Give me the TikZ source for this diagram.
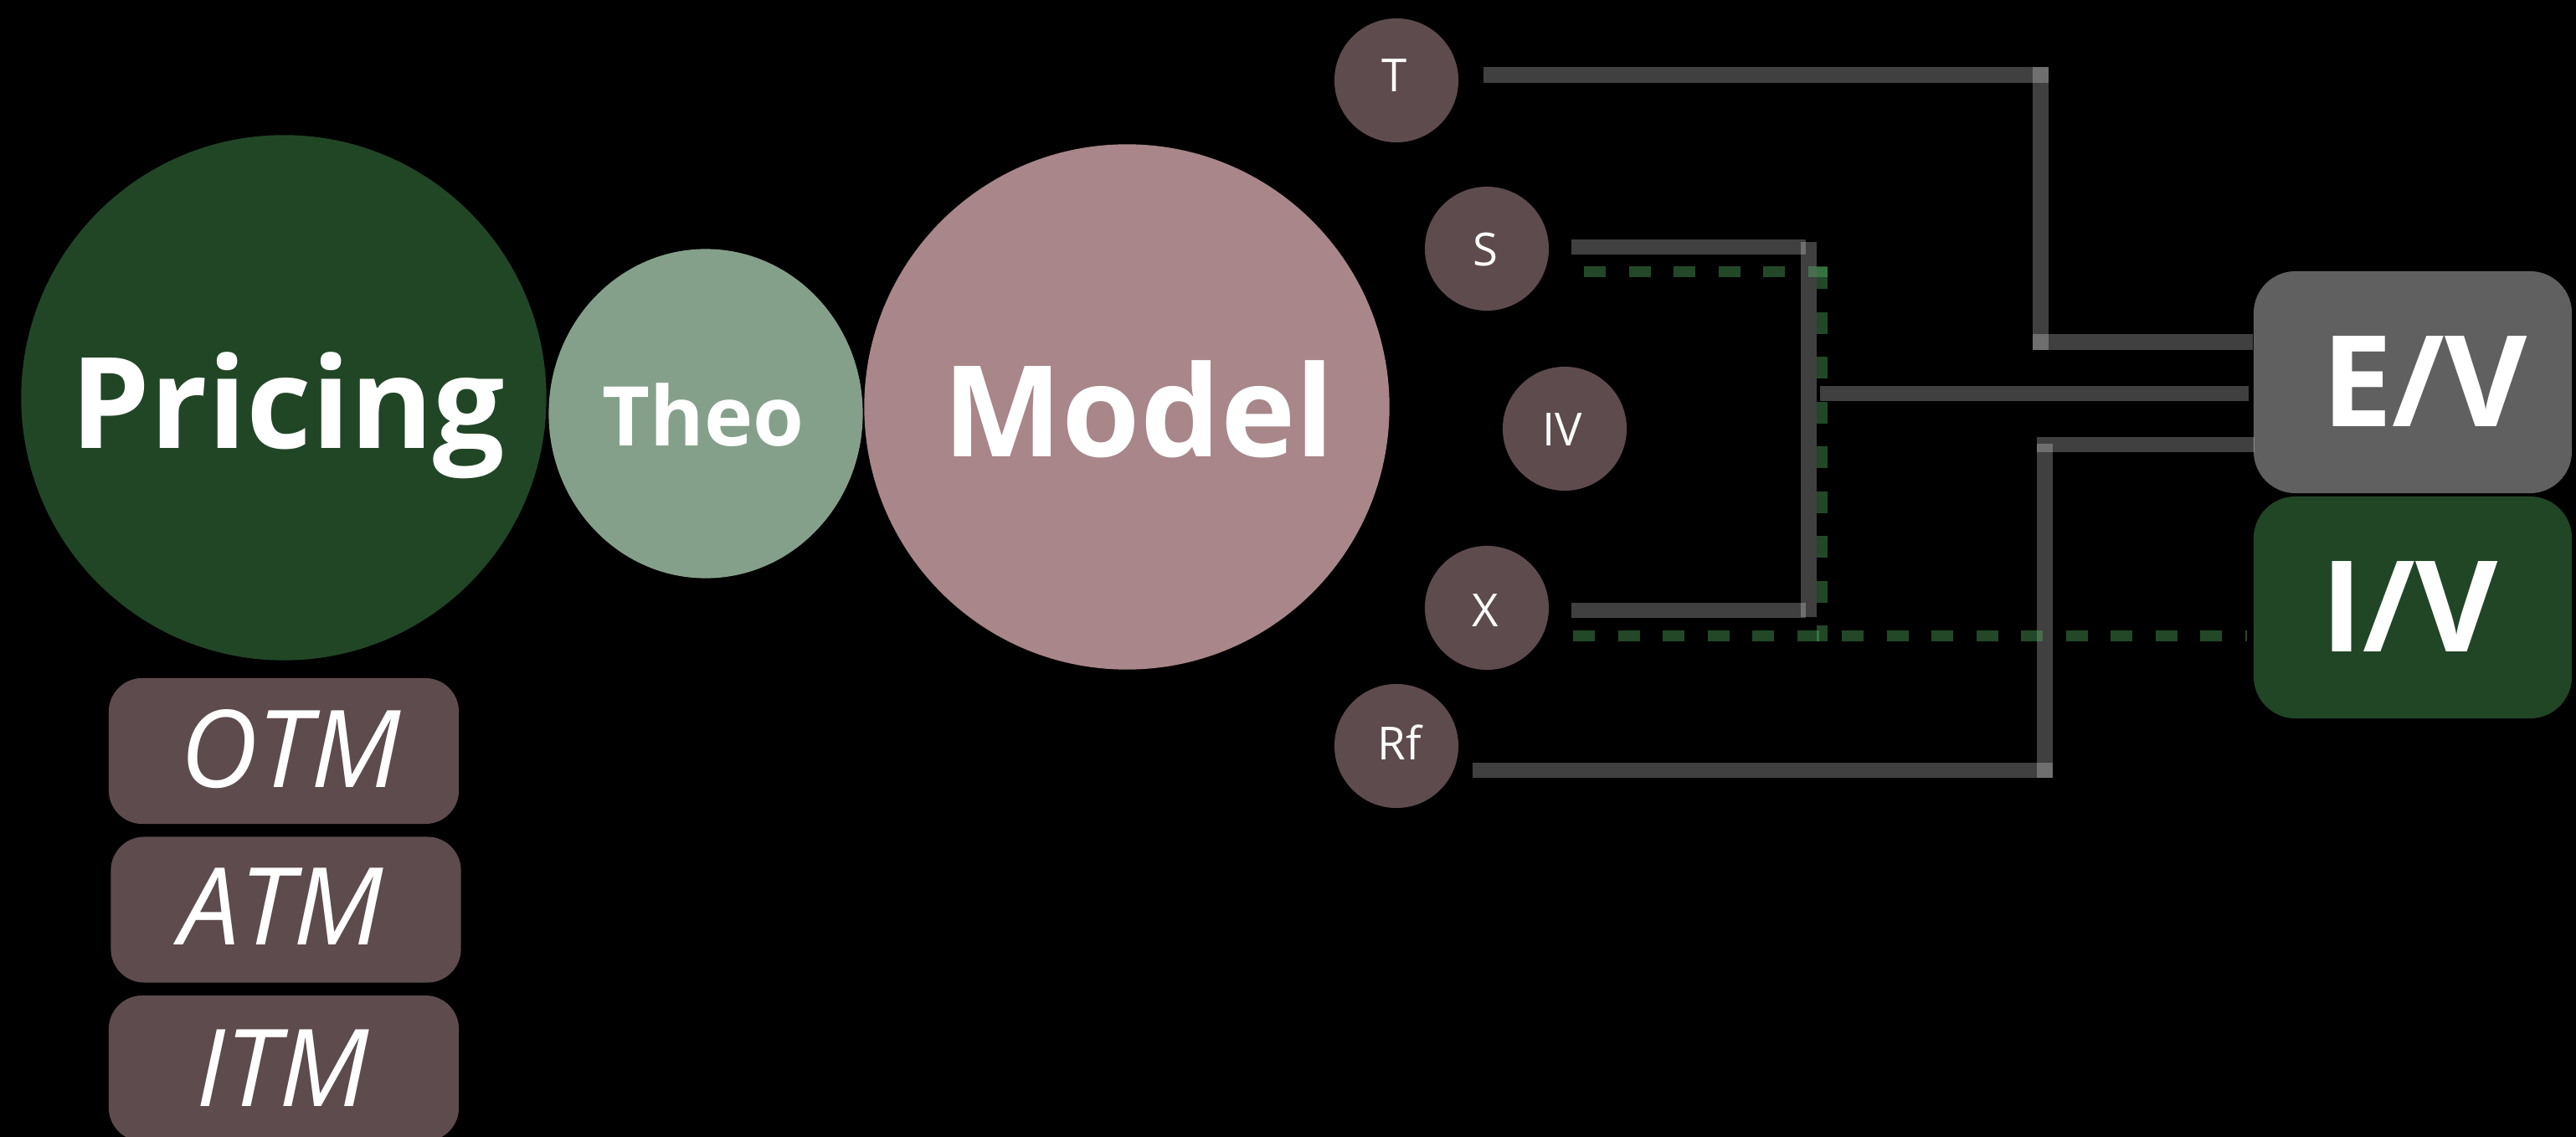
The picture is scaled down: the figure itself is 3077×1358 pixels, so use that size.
\documentclass[tikz,border=0pt]{standalone}
\usepackage{fontspec}
\setmainfont{Open Sans}
\usetikzlibrary{shapes.geometric,calc}

\definecolor{pricinggreen}{RGB}{33,70,38}
\definecolor{theogreen}{RGB}{133,160,138}
\definecolor{modelrose}{RGB}{168,134,137}
\definecolor{inputmauve}{RGB}{94,75,78}
\definecolor{evgray}{RGB}{96,96,96}
\definecolor{dashgreen}{RGB}{85,180,100}

\tikzset{
  disc/.style={circle,inner sep=0pt,draw=none},
  bigdisc/.style={disc,minimum size=6.27cm},
  inputdisc/.style={disc,fill=inputmauve,minimum size=1.48cm},
  moneybox/.style={rectangle,rounded corners=0.4cm,fill=inputmauve,inner sep=0pt,
    minimum width=4.18cm,minimum height=1.74cm},
  valuebox/.style={rectangle,rounded corners=0.5cm,inner sep=0pt,
    minimum width=3.8cm,minimum height=2.65cm},
  lbl/.style={inner sep=0pt,text=white,anchor=base},
  headline/.style={lbl,font=\fontsize{43}{50}\selectfont\bfseries},
  inputlbl/.style={lbl,font=\fontsize{15.5}{18}\selectfont},
  moneylbl/.style={lbl,font=\fontsize{36.5}{42}\selectfont\itshape},
  wire/.style={line width=0.185cm,draw=white,draw opacity=0.25,line cap=butt},
  ivwire/.style={line width=0.13cm,draw=dashgreen,draw opacity=0.4,line cap=butt,
    dash pattern=on 0.26cm off 0.275cm}
}

\begin{document}
\begin{tikzpicture}[x=0.01cm,y=-0.01cm]
  % canvas
  \fill[black] (0,0) rectangle (3077,1358);
  \useasboundingbox (0,0) rectangle (3077,1358);

  % main bubbles
  \node[bigdisc,fill=pricinggreen] (pricing) at (339,475) {};
  \node[disc,ellipse,fill=theogreen,minimum width=3.75cm,minimum height=3.93cm] (theo) at (843,494) {};
  \node[bigdisc,fill=modelrose] (model) at (1346,486) {};
  \node[headline] (pricingtxt) at (344,536) {Pricing};
  \node[lbl,font=\fontsize{28}{32}\selectfont\bfseries] (theotxt) at (840,533) {Theo};
  \node[headline] (modeltxt) at (1360,546) {Model};

  % moneyness boxes
  \node[moneybox] (otm) at (339,897) {};
  \node[moneybox] (atm) at (341.5,1086.5) {};
  \node[moneybox] (itm) at (339,1276) {};
  \node[moneylbl] (otmtxt) at (347,940) {OTM};
  \node[moneylbl] (atmtxt) at (336,1128) {ATM};
  \node[moneylbl] (itmtxt) at (338,1321) {ITM};

  % model inputs
  \node[inputdisc] (T) at (1668,96) {};
  \node[inputdisc] (S) at (1776,297) {};
  \node[inputdisc] (IV) at (1869,512) {};
  \node[inputdisc] (X) at (1776,726) {};
  \node[inputdisc] (Rf) at (1668,891) {};
  \node[inputlbl] (Ttxt) at (1666,110) {T};
  \node[inputlbl] (Stxt) at (1774,318) {S};
  \node[inputlbl] (IVtxt) at (1866,533) {IV};
  \node[inputlbl] (Xtxt) at (1774,749) {X};
  \node[inputlbl] (Rftxt) at (1672,907) {Rf};

  % value boxes
  \node[valuebox,fill=evgray] (EV) at (2882,456.5) {};
  \node[valuebox,fill=pricinggreen] (IVbox) at (2882,725.5) {};
  \node[headline] (EVtxt) at (2896,510) {E/V};
  \node[headline] (IVboxtxt) at (2878,779) {I/V};

  % bend points of the wiring
  \coordinate (tcorner) at (2447,89.5);
  \coordinate (ttop) at (2437.5,80);
  \coordinate (tbot) at (2437.5,418);
  \coordinate (tjoin) at (2428,408.5);
  \coordinate (sx) at (2157,295);
  \coordinate (sxtop) at (2160.5,289);
  \coordinate (sxbot) at (2160.5,737);
  \coordinate (xx) at (2157,729);
  \coordinate (mid) at (2174,470);
  \coordinate (rcorner) at (2452,920);
  \coordinate (rtop) at (2442.5,530);
  \coordinate (rbot) at (2442.5,929);
  \coordinate (rjoin) at (2433,531);

  % expiry and rate
  \draw[wire] ([xshift=0.29cm]T.east |- tcorner) -- (tcorner);
  \draw[wire] (ttop) -- (tbot);
  \draw[wire] (tjoin) -- (EV.west |- tjoin);
  \draw[wire] ([xshift=0.16cm]Rf.east |- rcorner) -- (rcorner);
  \draw[wire] (rtop) -- (rbot);
  \draw[wire] (rjoin) -- ([xshift=0.02cm]EV.west |- rjoin);

  % spot and strike
  \draw[wire] ([xshift=0.26cm]S.east |- sx) -- (sx);
  \draw[wire] ([xshift=0.26cm]X.east |- xx) -- (xx);
  \draw[wire] (sxtop) -- (sxbot);
  \draw[wire] (mid) -- ([xshift=-0.05cm]EV.west |- mid);

  % intrinsic value path
  \coordinate (ivtop) at (1892,325);
  \coordinate (ivcorner) at (2183,325);
  \coordinate (ivvtop) at (2176.5,319);
  \coordinate (ivvbot) at (2176.5,766);
  \coordinate (ivlow) at (1879,759.5);
  \draw[ivwire] (ivtop) -- (ivcorner);
  \draw[ivwire] (ivvtop) -- (ivvbot);
  \draw[ivwire] (ivlow) -- ([xshift=-0.07cm]IVbox.west |- ivlow);
\end{tikzpicture}
\end{document}
